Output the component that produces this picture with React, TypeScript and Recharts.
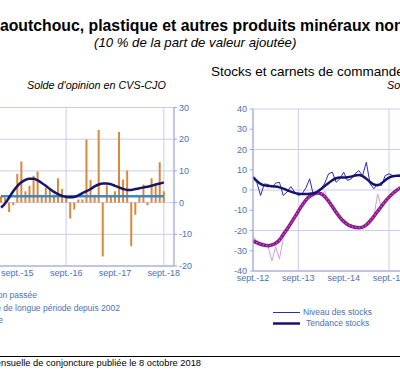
import { ComposedChart, LineChart, Bar, Line, XAxis, YAxis, CartesianGrid } from "recharts";

// left panel: monthly balance, May-15 (m=0) .. Sept-18 (m=40)
const PRODUCTION = [
  2, 1.5, -3, -0.8, 9, 13, 3.6, 5.3, 8.5, 9.8, 2.5, 4.7, 4, 2.5, 7.7, 4.3, 1.5, -5, -2.2, 1, 1,
  19.9, 7.1, 2.5, 22.9, -17, 5.5, 2, 3.6, 22.3, 7.3, 10.1, -13.8, -3.8, 1.8, 5.7, -0.8, 7.7, 5.5, 12.7, 3.6,
];
const PRODUCTION_TREND = [
  -1.6, -0.3, 1.6, 3.6, 5.2, 6.4, 7.2, 7.5, 7.5, 7.0, 6.2, 5.3, 4.3, 3.4, 2.7, 2.1, 1.8, 1.7, 1.8, 2.3, 3.0,
  3.6, 4.3, 5.1, 5.7, 6.0, 6.0, 5.8, 5.3, 4.8, 4.3, 4.0, 4.0, 4.3, 4.5, 4.8, 5.0, 5.3, 5.7, 6.0, 6.4,
];
const LONG_RUN_MEAN = 2;
const LEFT_TICKS = [4, 16, 28, 40];
const LEFT_TICK_LABELS = ["sept.-15", "sept.-16", "sept.-17", "sept.-18"];

// right panel: Sept-12 (m=0) .. Dec-15 (m=39)
const STOCK_LEVEL = [
  6.6, 3.8, -2.7, 3, 2.7, 1.4, 3.4, 3.8, -2.7, -1, 1.7, -1, -2.7, -1.9, 1, 5.5, -2.7, -1, 0.6, 3.4,
  8, 8.8, 3.8, 5.5, 8.8, 4.7, 5.5, 8, 9.6, 7.1, 13.7, 3, 0.6, 3, 2.2, 7.1, 8, 7.1, 7, 7.5,
];
const STOCK_TREND = [
  6.3, 4.5, 3.0, 2.3, 2.0, 1.9, 1.7, 1.3, 0.7, -0.1, -0.8, -1.4, -1.8, -2.0, -2.0, -1.9, -1.6, -0.9, 0.5, 2.0,
  3.4, 4.8, 5.8, 6.2, 6.2, 6.3, 6.6, 7.2, 7.4, 6.8, 5.5, 4.0, 2.7, 2.4, 3.3, 4.8, 6.1, 6.8, 7.0, 7.0,
];
const ORDERS_LEVEL = [
  -23, -25, -26, -26.5, -28, -35, -28, -34, -24, -19, -17, -14, -11, -7, -5, -3, -2.5, -0.5, -3, -0.5,
  -6, -8, -11.5, -13, -15.5, -17.5, -17, -19.5, -18, -19, -17, -14.5, -13, -2, -8.5, -5, -3.5, -1, 0, 1.5,
];
const ORDERS_TREND = [
  -25, -26, -26.8, -27.3, -27.5, -27.1, -26.3, -24.7, -22, -19.4, -16.5, -13.5, -10.5, -7.5, -5, -3.2, -2, -1.5, -1.8, -3.3,
  -5.5, -8.2, -11, -13.5, -15.5, -17, -17.9, -18.4, -18.6, -18.3, -17.2, -15.3, -13, -10.5, -8, -5.6, -3.5, -1.7, -0.2, 1.2,
];
const RIGHT_TICKS = [0, 12, 24, 36];
const RIGHT_TICK_LABELS = ["sept.-12", "sept.-13", "sept.-14", "sept.-15"];

const leftData = PRODUCTION.map((v, m) => ({ m, v, trend: PRODUCTION_TREND[m], mean: LONG_RUN_MEAN }));
const rightData = STOCK_LEVEL.map((s, m) => ({
  m,
  stock: s,
  stockTrend: STOCK_TREND[m],
  orders: ORDERS_LEVEL[m],
  ordersTrend: ORDERS_TREND[m],
}));

const GRID = "#cbcbef";
const AXIS = "#a2a2d6";
const LABEL = "#4872b4";
const tickStyle = { fill: LABEL, fontSize: 9 };

const txt = (extra: React.CSSProperties): React.CSSProperties => ({
  position: "absolute",
  whiteSpace: "nowrap",
  ...extra,
});

export default function App() {
  return (
    <div
      style={{
        position: "absolute",
        left: 0,
        top: 0,
        width: 400,
        height: 380,
        overflow: "hidden",
        background: "#fff",
        fontFamily: "'Liberation Sans', Arial, sans-serif",
      }}
    >
      <div style={txt({ left: -11.5, top: 17, fontSize: 15.8, fontWeight: "bold", lineHeight: "18px", color: "#000" })}>
        Caoutchouc, plastique et autres produits minéraux non métalliques
      </div>
      <div style={txt({ left: 94, top: 35, fontSize: 13.2, fontStyle: "italic", lineHeight: "15px", color: "#000" })}>
        (10 % de la part de valeur ajoutée)
      </div>

      <div style={txt({ left: 27, top: 78, fontSize: 10.8, fontStyle: "italic", lineHeight: "14px", color: "#000" })}>
        Solde d'opinion en CVS-CJO
      </div>
      <div style={txt({ left: 211, top: 63, fontSize: 13.5, lineHeight: "17px", color: "#000" })}>
        Stocks et carnets de commandes
      </div>
      <div style={txt({ left: 387, top: 78, fontSize: 10.8, fontStyle: "italic", lineHeight: "14px", color: "#000" })}>
        Solde d'opinion en CVS-CJO
      </div>

      {/* left panel */}
      <div style={{ position: "absolute", left: -11, top: 100 }}>
        <ComposedChart width={215} height={186} data={leftData} margin={{ top: 7.5, right: 0, left: 10, bottom: 0 }}>
          <CartesianGrid stroke={GRID} />
          <XAxis
            dataKey="m"
            type="number"
            domain={[-0.5, 42.5]}
            ticks={LEFT_TICKS}
            tickFormatter={(m: number) => LEFT_TICK_LABELS[LEFT_TICKS.indexOf(m)]}
            tick={tickStyle}
            tickLine={false}
            tickSize={0}
            tickMargin={4}
            stroke={AXIS}
            height={20}
            allowDataOverflow
          />
          <YAxis
            orientation="right"
            domain={[-20, 30]}
            ticks={[-20, -10, 0, 10, 20, 30]}
            tick={tickStyle}
            tickSize={3}
            tickMargin={2}
            stroke={AXIS}
            width={30}
            allowDataOverflow
          />
          <Bar dataKey="v" fill="#d9883b" barSize={2} isAnimationActive={false} />
          <Line dataKey="mean" stroke="#3f86c4" strokeWidth={2.5} dot={false} isAnimationActive={false} />
          <Line type="monotone" dataKey="trend" stroke="#15156a" strokeWidth={2.5} dot={false} isAnimationActive={false} />
        </ComposedChart>
      </div>

      <div style={txt({ right: 363, top: 290, fontSize: 8.5, lineHeight: "11px", color: LABEL })}>Production passée</div>
      <div style={txt({ right: 280, top: 303, fontSize: 8.5, lineHeight: "11px", color: LABEL })}>
        Moyenne de longue période depuis 2002
      </div>
      <div style={txt({ right: 397, top: 315, fontSize: 8.5, lineHeight: "11px", color: LABEL })}>Tendance</div>

      {/* right panel */}
      <div style={{ position: "absolute", left: 223, top: 101 }}>
        <LineChart width={200} height={190} data={rightData} margin={{ top: 8, right: 0, left: 0, bottom: 0 }}>
          <CartesianGrid stroke={GRID} />
          <XAxis
            dataKey="m"
            type="number"
            domain={[0, 45]}
            ticks={RIGHT_TICKS}
            tickFormatter={(m: number) => RIGHT_TICK_LABELS[RIGHT_TICKS.indexOf(m)]}
            tick={tickStyle}
            tickLine={false}
            tickSize={0}
            tickMargin={4}
            stroke={AXIS}
            height={20}
            allowDataOverflow
          />
          <YAxis
            domain={[-40, 40]}
            ticks={[-40, -30, -20, -10, 0, 10, 20, 30, 40]}
            tick={tickStyle}
            tickSize={3}
            tickMargin={3}
            stroke={AXIS}
            width={30}
          />
          <Line dataKey="orders" stroke="#d79ae6" strokeWidth={1} dot={false} isAnimationActive={false} />
          <Line type="monotone" dataKey="ordersTrend" stroke="#861c86" strokeWidth={3.5} dot={false} isAnimationActive={false} />
          <Line
            type="monotone"
            dataKey="ordersTrend"
            stroke="#d45ac8"
            strokeWidth={1.2}
            strokeDasharray="1.5 2"
            dot={false}
            isAnimationActive={false}
          />
          <Line dataKey="stock" stroke="#2c2cb4" strokeWidth={1} dot={false} isAnimationActive={false} />
          <Line type="monotone" dataKey="stockTrend" stroke="#14146c" strokeWidth={2.5} dot={false} isAnimationActive={false} />
        </LineChart>
      </div>

      <svg style={{ position: "absolute", left: 272, top: 306 }} width={30} height={22}>
        <line x1={1} x2={28} y1={6.5} y2={6.5} stroke="#2c2cb4" strokeWidth={1} />
        <line x1={1} x2={28} y1={17.5} y2={17.5} stroke="#14146c" strokeWidth={2.5} />
      </svg>
      <div style={txt({ left: 303, top: 307, fontSize: 8.5, lineHeight: "11px", color: LABEL })}>Niveau des stocks</div>
      <div style={txt({ left: 306, top: 318, fontSize: 8.5, lineHeight: "11px", color: LABEL })}>Tendance stocks</div>

      <div style={{ position: "absolute", left: 0, top: 356, width: 400, height: 1, background: "#000" }} />
      <div style={txt({ right: 199, top: 357, fontSize: 9.3, lineHeight: "12px", color: "#000" })}>
        Source : Insee, enquête mensuelle de conjoncture publiée le 8 octobre 2018
      </div>
    </div>
  );
}
